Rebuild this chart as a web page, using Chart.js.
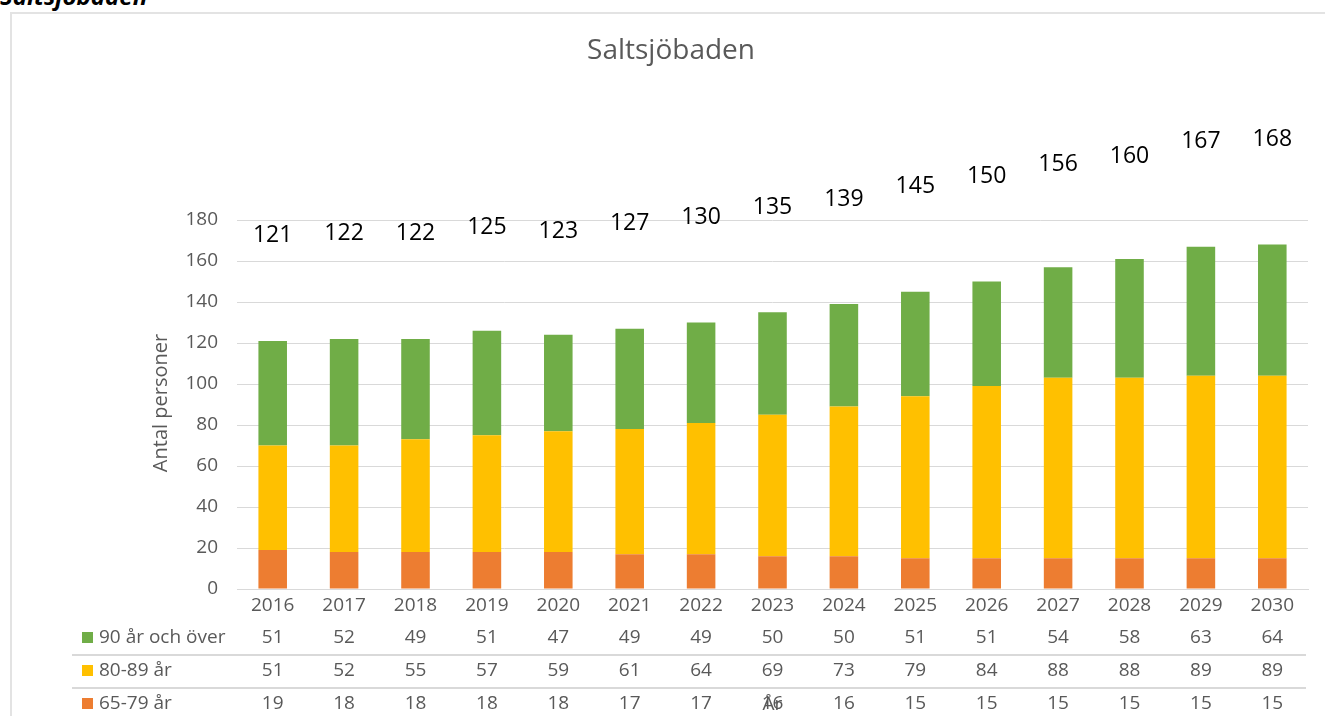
<!DOCTYPE html>
<html>
<head>
<meta charset="utf-8">
<script src="https://cdn.jsdelivr.net/npm/chart.js@4"></script>
<style>
  body { margin: 0; background: #fff; overflow: hidden; }
  #wrap { position: relative; width: 1325px; height: 716px; overflow: hidden; }
  #chart { position: absolute; left: 0; top: 0; }
  #frame { position: absolute; left: 10px; top: 12px; width: 1320px; height: 710px; border: 2px solid #e3e3e3; box-sizing: border-box; pointer-events: none; }
  #heading { position: absolute; left: 0; top: -21px; font: italic bold 24px "Open Sans", sans-serif; color: #000; }
</style>
</head>
<body>
<div id="wrap">
  <div id="heading">Saltsjöbaden</div>
  <canvas id="chart" width="1325" height="716"></canvas>
  <div id="frame"></div>
</div>
<script>
// Saltsjöbaden - antal personer per åldersgrupp
const years = ['2016', '2017', '2018', '2019', '2020', '2021', '2022', '2023', '2024', '2025', '2026', '2027', '2028', '2029', '2030'];
const over90 = [51, 52, 49, 51, 47, 49, 49, 50, 50, 51, 51, 54, 58, 63, 64];
const age8089 = [51, 52, 55, 57, 59, 61, 64, 69, 73, 79, 84, 88, 88, 89, 89];
const age6579 = [19, 18, 18, 18, 18, 17, 17, 16, 16, 15, 15, 15, 15, 15, 15];
const totals = [121, 122, 122, 125, 123, 127, 130, 135, 139, 145, 150, 156, 160, 167, 168];

const gray = '#595959';
const font = '"Open Sans", sans-serif';

// table rows under the axis (top row first)
const rows = [
    { label: '90 år och över', data: over90, color: '#70AD47' },
    { label: '80-89 år', data: age8089, color: '#FFC000' },
    { label: '65-79 år', data: age6579, color: '#ED7D31' }
];

const extras = {
    id: 'extras',
    afterDraw(chart) {
        const ctx = chart.ctx;
        const x = chart.scales.x;
        const y = chart.scales.y;
        ctx.save();

        // title
        ctx.fillStyle = gray;
        ctx.font = '28px ' + font;
        ctx.textAlign = 'center';
        ctx.textBaseline = 'middle';
        ctx.fillText('Saltsjöbaden', 671, 51);

        // totals above the bars
        ctx.fillStyle = '#000';
        ctx.font = '23px ' + font;
        totals.forEach((t, i) => {
            ctx.fillText(String(t), x.getPixelForValue(i), y.getPixelForValue(t) - 105);
        });

        // y title
        ctx.save();
        ctx.translate(161, 403);
        ctx.rotate(-Math.PI / 2);
        ctx.fillStyle = gray;
        ctx.font = '20px ' + font;
        ctx.fillText('Antal personer', 0, 0);
        ctx.restore();

        // data table
        const rowY = [638, 671, 704];
        ctx.font = '19px ' + font;
        rows.forEach((r, k) => {
            ctx.fillStyle = r.color;
            ctx.fillRect(82, rowY[k] - 6, 11, 11);
            ctx.fillStyle = gray;
            ctx.textAlign = 'left';
            ctx.fillText(r.label, 99, rowY[k]);
            ctx.textAlign = 'center';
            r.data.forEach((v, i) => ctx.fillText(String(v), x.getPixelForValue(i), rowY[k]));
        });
        ctx.strokeStyle = '#d9d9d9';
        ctx.lineWidth = 2;
        [655, 688].forEach(ly => {
            ctx.beginPath();
            ctx.moveTo(72, ly);
            ctx.lineTo(1306, ly);
            ctx.stroke();
        });

        // x title, sits on top of the last row like in the original
        ctx.fillStyle = gray;
        ctx.font = '19px ' + font;
        ctx.fillText('År', (chart.chartArea.left + chart.chartArea.right) / 2, 705);
        ctx.restore();
    }
};

const ctxChart = document.getElementById('chart').getContext('2d');
const chart = new Chart(ctxChart, {
    type: 'bar',
    data: {
        labels: years,
        datasets: [{
            label: '65-79 år',
            data: age6579,
            backgroundColor: '#ED7D31'
        }, {
            label: '80-89 år',
            data: age8089,
            backgroundColor: '#FFC000'
        }, {
            label: '90 år och över',
            data: over90,
            backgroundColor: '#70AD47'
        }]
    },
    options: {
        responsive: false,
        animation: false,
        layout: { padding: { top: 220, right: 17, left: 0, bottom: 0 } },
        datasets: { bar: { categoryPercentage: 1, barPercentage: 0.4 } },
        plugins: {
            legend: { display: false },
            title: { display: false },
            tooltip: { enabled: false }
        },
        scales: {
            x: {
                stacked: true,
                grid: { display: false, drawTicks: false },
                border: { color: '#d9d9d9', width: 1 },
                ticks: { color: gray, font: { family: font, size: 19 }, padding: 5, maxRotation: 0 },
                afterFit(scale) { scale.height = 127; }
            },
            y: {
                stacked: true,
                min: 0,
                max: 180,
                ticks: { stepSize: 20, color: gray, font: { family: font, size: 19 }, padding: 19 },
                grid: { color: '#d9d9d9', drawTicks: false },
                border: { display: false },
                afterFit(scale) { scale.width = 237; }
            }
        }
    },
    plugins: [extras]
});
</script>
</body>
</html>
